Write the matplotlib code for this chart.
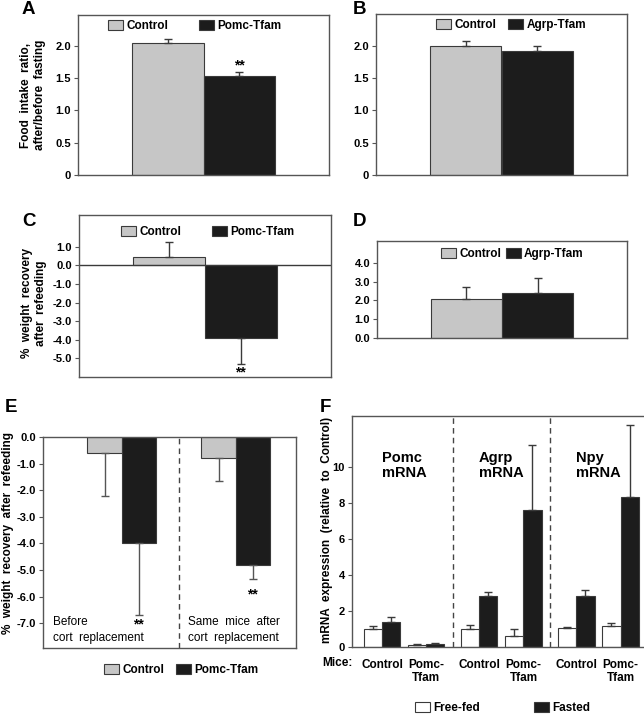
import numpy as np
import matplotlib.pyplot as plt

plt.rcParams['font.family'] = ['Liberation Sans', 'DejaVu Sans']
plt.rcParams['font.weight'] = 'bold'

# A: food intake ratio after/before fasting
a_labels = ['Control', 'Pomc-Tfam']
a_mean = [2.04, 1.53]
a_sem = [0.07, 0.06]
# B
b_labels = ['Control', 'Agrp-Tfam']
b_mean = [2.00, 1.92]
b_sem = [0.07, 0.08]
# C: % weight recovery after refeeding
c_labels = ['Control', 'Pomc-Tfam']
c_mean = [0.45, -3.9]
c_sem = [0.8, 1.4]
# D
d_labels = ['Control', 'Agrp-Tfam']
d_mean = [2.1, 2.4]
d_sem = [0.6, 0.8]
# E: before / after cort replacement
e_groups = [['Before', 'cort  replacement'], ['Same  mice  after', 'cort  replacement']]
e_ctrl = [-0.6, -0.8]
e_ctrl_sem = [1.6, 0.85]
e_pomc = [-4.0, -4.8]
e_pomc_sem = [2.7, 0.55]
# F: mRNA expression relative to control
f_genes = ['Pomc\nmRNA', 'Agrp\nmRNA', 'Npy\nmRNA']
f_mice = ['Control', 'Pomc-\nTfam']
f_fed = [1.0, 0.12, 1.0, 0.6, 1.05, 1.15]
f_fed_sem = [0.15, 0.03, 0.2, 0.4, 0.05, 0.2]
f_fast = [1.4, 0.15, 2.8, 7.6, 2.8, 8.3]
f_fast_sem = [0.25, 0.05, 0.25, 3.6, 0.35, 4.0]

GRAY = '#c6c6c6'
BLACK = '#1c1c1c'
EDGE = '#3a3a3a'
SPINE = '#555555'
W, H = 644, 714

fig = plt.figure(figsize=(W / 100, H / 100), dpi=100)


def add_ax(x0, y0, x1, y1):
    return fig.add_axes([x0 / W, 1 - y1 / H, (x1 - x0) / W, (y1 - y0) / H])


def fx(x):
    return x / W


def fy(y):
    return 1 - y / H


def one_sided(vals, sem):
    vals = np.asarray(vals)
    sem = np.asarray(sem)
    return [np.where(vals < 0, sem, 0), np.where(vals >= 0, sem, 0)]


def style(ax, ticks, ticklabels):
    for s in ax.spines.values():
        s.set_color(SPINE)
        s.set_linewidth(1)
    ax.set_xticks([])
    ax.set_yticks(ticks)
    ax.set_yticklabels(ticklabels)
    ax.tick_params(axis='y', direction='out', length=3, width=0.8, color=SPINE,
                   labelsize=8, pad=2)


def legend(handles, labels, x, y, colsp, fs=8.5):
    fig.legend(handles, labels, loc='upper left', bbox_to_anchor=(fx(x), fy(y)),
               ncol=2, frameon=False, borderpad=0, borderaxespad=0,
               handlelength=1.25, handleheight=0.9, handletextpad=0.3,
               columnspacing=colsp, prop={'weight': 'bold', 'size': fs})


def two_bar(ax, mean, sem, labels):
    x = np.arange(2)
    bars = ax.bar(x, mean, width=1.0, color=[GRAY, BLACK], edgecolor=EDGE, lw=0.8)
    ax.errorbar(x, mean, yerr=one_sided(mean, sem), fmt='none', ecolor=EDGE,
                elinewidth=1, capsize=3, capthick=1)
    ax.set_xlim(0.5 - 1.76, 0.5 + 1.76)
    return bars


# ---- A ----
axA = add_ax(78, 15, 329, 175)
barsA = two_bar(axA, a_mean, a_sem, a_labels)
axA.set_ylim(0, 2.48)
style(axA, [0, 0.5, 1.0, 1.5, 2.0], ['0', '0.5', '1.0', '1.5', '2.0'])
axA.text(1, 1.70, '**', ha='center', va='center', fontsize=10)
legend(barsA, a_labels, 108, 20, 2.6)
fig.text(fx(33), fy(95), 'Food  intake  ratio,\nafter/before  fasting', rotation=90,
         ha='center', va='center', fontsize=8.5, linespacing=1.15)

# ---- B ----
axB = add_ax(376, 14, 627, 175)
barsB = two_bar(axB, b_mean, b_sem, b_labels)
axB.set_ylim(0, 2.49)
style(axB, [0, 0.5, 1.0, 1.5, 2.0], ['0', '0.5', '1.0', '1.5', '2.0'])
legend(barsB, b_labels, 436, 19, 1.0)

# ---- C ----
axC = add_ax(79, 215, 331, 377)
barsC = two_bar(axC, c_mean, c_sem, c_labels)
axC.axhline(0, color=EDGE, lw=1)
axC.set_ylim(-6.0, 2.7)
cticks = [1.0, 0.0, -1.0, -2.0, -3.0, -4.0, -5.0]
style(axC, cticks, ['%.1f' % t for t in cticks])
axC.text(1, -5.75, '**', ha='center', va='center', fontsize=10)
legend(barsC, c_labels, 121, 226, 2.6)
fig.text(fx(34), fy(303), '%  weight  recovery\nafter  refeeding', rotation=90,
         ha='center', va='center', fontsize=8.5, linespacing=1.15)

# ---- D ----
axD = add_ax(377, 241, 627, 338)
barsD = two_bar(axD, d_mean, d_sem, d_labels)
axD.set_ylim(0, 5.17)
dticks = [0.0, 1.0, 2.0, 3.0, 4.0]
style(axD, dticks, ['%.1f' % t for t in dticks])
legend(barsD, d_labels, 441, 248, 0.4)

# ---- E ----
axE = add_ax(43, 437, 296, 648)
ex = np.arange(len(e_groups))
bw = 0.3
bE1 = axE.bar(ex - bw / 2, e_ctrl, width=bw, color=GRAY, edgecolor=EDGE, lw=0.8)
bE2 = axE.bar(ex + bw / 2, e_pomc, width=bw, color=BLACK, edgecolor=EDGE, lw=0.8)
axE.errorbar(ex - bw / 2, e_ctrl, yerr=one_sided(e_ctrl, e_ctrl_sem), fmt='none',
             ecolor='#555555', elinewidth=1, capsize=3, capthick=1)
axE.errorbar(ex + bw / 2, e_pomc, yerr=one_sided(e_pomc, e_pomc_sem), fmt='none',
             ecolor='#555555', elinewidth=1, capsize=3, capthick=1)
axE.axvline(0.5, color='#444444', ls=(0, (4, 3)), lw=1)
axE.set_xlim(-0.69, 1.53)
axE.set_ylim(-7.93, 0)
eticks = [0.0, -1.0, -2.0, -3.0, -4.0, -5.0, -6.0, -7.0]
style(axE, eticks, ['%.1f' % t for t in eticks])
for i, ys in enumerate([-7.05, -5.93]):
    axE.text(ex[i] + bw / 2, ys, '**', ha='center', va='center', fontsize=10)
for xa, lines in zip([0.04, 0.575], e_groups):
    axE.text(xa, 0.095, lines[0], transform=axE.transAxes, ha='left', va='bottom',
             fontsize=8.5, fontweight='normal')
    axE.text(xa, 0.02, lines[1], transform=axE.transAxes, ha='left', va='bottom',
             fontsize=8.5, fontweight='normal')
legend([bE1, bE2], ['Control', 'Pomc-Tfam'], 104, 664, 1.0)
fig.text(fx(8), fy(533), '%  weight  recovery  after  refeeding', rotation=90,
         ha='center', va='center', fontsize=8.5)

# ---- F ----
axF = add_ax(352, 416, W + 3, 647)
fx_pos = np.array([g + s for g in range(len(f_genes)) for s in (-0.227, 0.227)])
fw = 0.186
bF1 = axF.bar(fx_pos - fw / 2, f_fed, width=fw, color='white', edgecolor=EDGE, lw=0.8)
bF2 = axF.bar(fx_pos + fw / 2, f_fast, width=fw, color=BLACK, edgecolor=EDGE, lw=0.8)
axF.errorbar(fx_pos - fw / 2, f_fed, yerr=one_sided(f_fed, f_fed_sem), fmt='none',
             ecolor=EDGE, elinewidth=1, capsize=3, capthick=1)
axF.errorbar(fx_pos + fw / 2, f_fast, yerr=one_sided(f_fast, f_fast_sem), fmt='none',
             ecolor=EDGE, elinewidth=1, capsize=3, capthick=1)
for d in [0.5, 1.5]:
    axF.axvline(d, color='#444444', ls=(0, (4, 3)), lw=1)
for i, g in enumerate(f_genes):
    axF.text(i - 0.23, 10.85, g, ha='left', va='top', fontsize=10.5, linespacing=1.1)
axF.set_xlim(-0.54, 2.5)
axF.set_ylim(0, 12.8)
style(axF, [0, 2, 4, 6, 8, 10], ['0', '2', '4', '6', '8', '10'])
axF.spines['right'].set_visible(False)
axF.set_xticks(fx_pos)
axF.set_xticklabels(f_mice * len(f_genes), fontsize=8.5, fontweight='bold',
                    linespacing=1.1)
axF.tick_params(axis='x', length=0, pad=9)
fig.text(fx(322), fy(663), 'Mice:', ha='left', va='center', fontsize=8.5)
legend([bF1, bF2], ['Free-fed', 'Fasted'], 415, 702, 4.6)
fig.text(fx(327), fy(530), 'mRNA  expression  (relative  to  Control)', rotation=90,
         ha='center', va='center', fontsize=8.5)

# panel letters
for letter, x, y in [('A', 22, 10), ('B', 353, 9), ('C', 22, 222), ('D', 353, 222),
                     ('E', 5, 408), ('F', 320, 408)]:
    fig.text(fx(x), fy(y), letter, ha='left', va='center', fontsize=13.5,
             fontweight='bold')

fig.savefig('out.png', dpi=100)
